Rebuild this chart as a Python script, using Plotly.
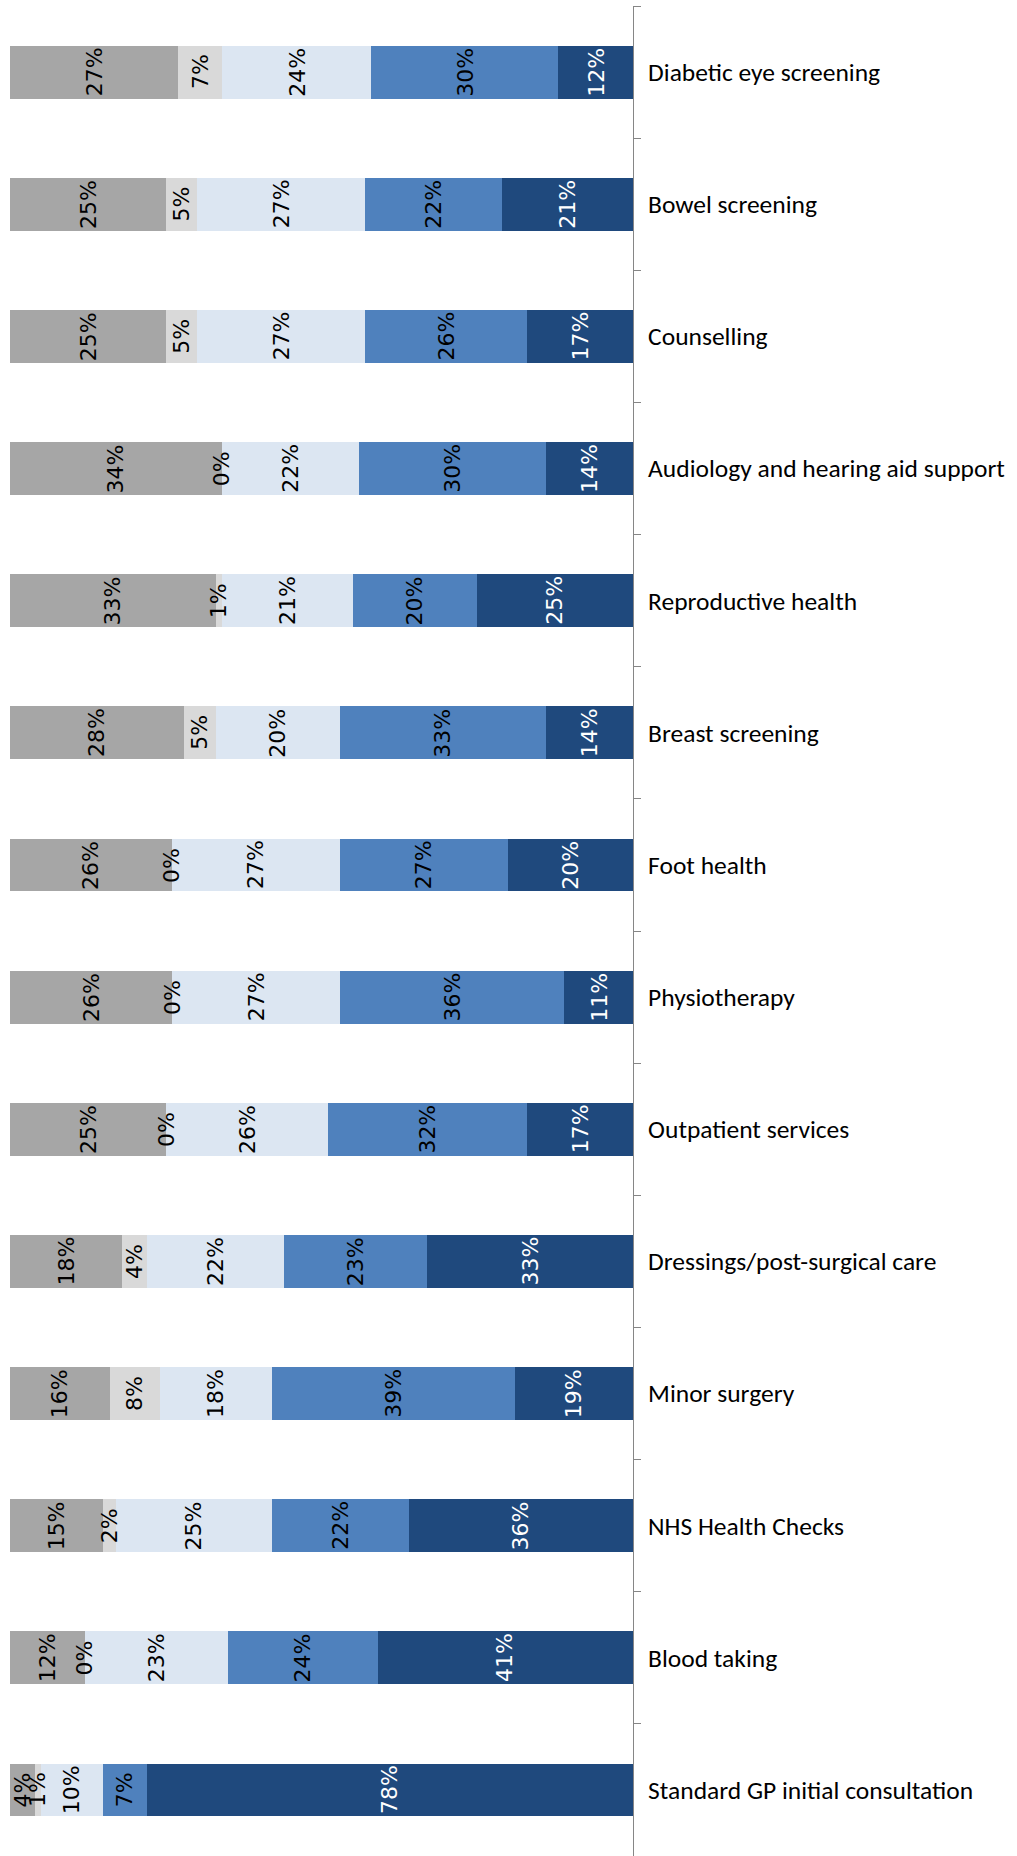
import plotly.graph_objects as go

# Services, listed top to bottom
services = [
    "Diabetic eye screening",
    "Bowel screening",
    "Counselling",
    "Audiology and hearing aid support",
    "Reproductive health",
    "Breast screening",
    "Foot health",
    "Physiotherapy",
    "Outpatient services",
    "Dressings/post-surgical care",
    "Minor surgery",
    "NHS Health Checks",
    "Blood taking",
    "Standard GP initial consultation",
]

# Percentage of responses in each band (left to right in the stack)
band_1 = [27, 25, 25, 34, 33, 28, 26, 26, 25, 18, 16, 15, 12, 4]
band_2 = [7, 5, 5, 0, 1, 5, 0, 0, 0, 4, 8, 2, 0, 1]
band_3 = [24, 27, 27, 22, 21, 20, 27, 27, 26, 22, 18, 25, 23, 10]
band_4 = [30, 22, 26, 30, 20, 33, 27, 36, 32, 23, 39, 22, 24, 7]
band_5 = [12, 21, 17, 14, 25, 14, 20, 11, 17, 33, 19, 36, 41, 78]

bands = [band_1, band_2, band_3, band_4, band_5]
colors = ["#A6A6A6", "#D9D9D9", "#DCE6F2", "#4F81BD", "#1F497D"]
label_colors = ["black", "black", "black", "black", "white"]

fig = go.Figure()
for vals, col in zip(bands, colors):
    fig.add_trace(go.Bar(
        x=vals,
        y=services,
        orientation="h",
        marker=dict(color=col, line=dict(width=0)),
        hoverinfo="skip",
        showlegend=False,
    ))

# Rotated value labels, centred on each segment of the stack
annotations = []
base = [0] * len(services)
for vals, tcol in zip(bands, label_colors):
    for i, v in enumerate(vals):
        annotations.append(dict(
            x=base[i] + v / 2,
            y=services[i],
            xref="x",
            yref="y",
            text=f"{v}%",
            textangle=-90,
            showarrow=False,
            xanchor="center",
            yanchor="middle",
            font=dict(family="DejaVu Sans", size=22, color=tcol),
        ))
        base[i] += v

fig.update_layout(
    width=1017,
    height=1856,
    margin=dict(l=10, r=384, t=6, b=0, autoexpand=False),
    paper_bgcolor="white",
    plot_bgcolor="white",
    barmode="stack",
    bargap=0.6,
    annotations=annotations,
    xaxis=dict(
        range=[0, 100],
        visible=False,
        showgrid=False,
        zeroline=False,
        fixedrange=True,
    ),
    yaxis=dict(
        side="right",
        autorange="reversed",
        showline=True,
        linecolor="#868686",
        linewidth=1,
        ticks="outside",
        ticklen=7,
        tickcolor="#868686",
        tickwidth=1,
        tickson="boundaries",
        ticklabelstandoff=9,
        showgrid=False,
        zeroline=False,
        automargin=False,
        tickfont=dict(family="Carlito, Lato, Liberation Sans", size=25.5, color="black"),
    ),
)

fig.write_html("out.html")
